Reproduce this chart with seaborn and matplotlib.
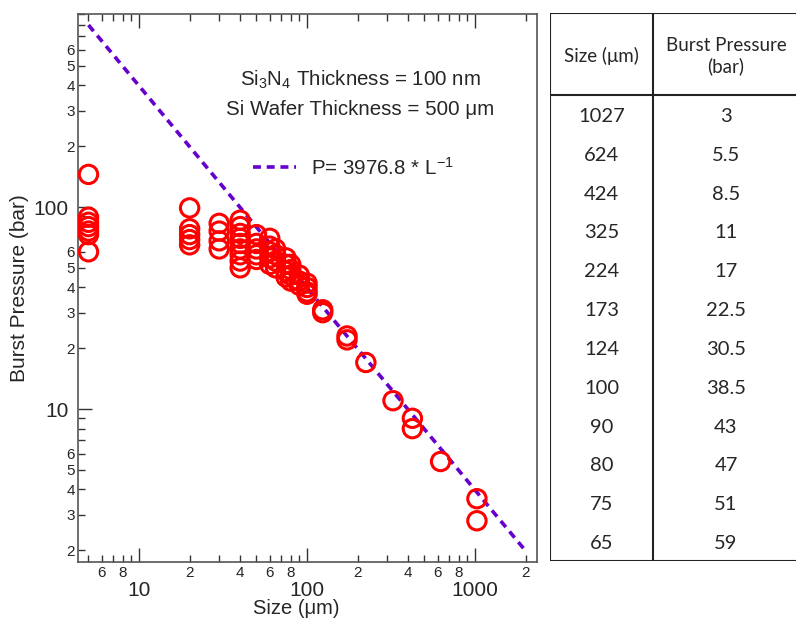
import numpy as np
import pandas as pd
import matplotlib
matplotlib.use('Agg')
import matplotlib.pyplot as plt
import matplotlib.ticker as mticker
import seaborn as sns

# measured burst pressures (bar) per membrane size (um)
sizes = [5, 20, 30, 40, 50, 60, 65, 75, 80, 90, 100, 124, 173, 224, 325, 424, 624, 1027]
pressures = [
    [145, 89, 84, 80, 76, 73, 60],
    [99, 78, 73, 69, 65],
    [83, 76, 68, 62],
    [86, 80, 74, 70, 66, 62, 58, 54, 50],
    [73, 66, 62, 58, 55],
    [70, 64, 60, 56, 52],
    [62, 58, 54, 50],
    [56, 52, 48, 45],
    [52, 49, 46, 43],
    [46, 43, 41],
    [42, 40, 38, 37],
    [31, 30],
    [23, 22],
    [17],
    [11],
    [9.0, 8.0],
    [5.5],
    [3.6, 2.8],
]

# fit P = coef * L^-1
fit_coef = 3976.8
fit_size = [5, 2000]

# table on the right
table_size = ['1027', '624', '424', '325', '224', '173', '124', '100', '90', '80', '75', '65']
table_pressure = ['3', '5.5', '8.5', '11', '17', '22.5', '30.5', '38.5', '43', '47', '51', '59']

df = pd.DataFrame([(s, p) for s, ps in zip(sizes, pressures) for p in ps],
                  columns=['size', 'pressure'])
fit_df = pd.DataFrame({'size': fit_size,
                       'pressure': [fit_coef / s for s in fit_size]})

sns.set_style('ticks')
plt.rcParams['font.family'] = ['Liberation Sans', 'DejaVu Sans']
plt.rcParams['mathtext.default'] = 'regular'

fig = plt.figure(figsize=(7.96, 6.22), dpi=100)
ax = fig.add_axes([78 / 796, 60 / 622, 459 / 796, 548 / 622])

sns.lineplot(data=fit_df, x='size', y='pressure', ax=ax, color='#6600CC',
             linewidth=2.6, label='P= 3976.8 * L$^{-1}$')
ax.lines[0].set_dashes((2.2, 1.6))
sns.scatterplot(data=df, x='size', y='pressure', ax=ax, marker='o',
                facecolors='none', edgecolor='red', linewidth=2.2, s=175,
                zorder=3)

ax.set_xscale('log')
ax.set_yscale('log')
ax.set_xlim(4.33, 2340)
ax.set_ylim(1.75, 902)

# ticks: major decades with big labels, minor with small labels
ax.xaxis.set_major_locator(mticker.LogLocator(base=10, subs=[1.0]))
ax.xaxis.set_minor_locator(mticker.LogLocator(base=10, subs=np.arange(2, 10)))
ax.yaxis.set_major_locator(mticker.LogLocator(base=10, subs=[1.0]))
ax.yaxis.set_minor_locator(mticker.LogLocator(base=10, subs=np.arange(2, 10)))


def major_fmt(v, pos):
    return f'{v:g}'


def minor_fmt_x(v, pos):
    m = int(round(v / 10 ** np.floor(np.log10(v) + 1e-9)))
    return str(m) if m in (2, 4, 6, 8) else ''


def minor_fmt_y(v, pos):
    m = int(round(v / 10 ** np.floor(np.log10(v) + 1e-9)))
    return str(m) if m in (2, 3, 4, 5, 6) else ''


ax.xaxis.set_major_formatter(mticker.FuncFormatter(major_fmt))
ax.xaxis.set_minor_formatter(mticker.FuncFormatter(minor_fmt_x))
ax.yaxis.set_major_formatter(mticker.FuncFormatter(major_fmt))
ax.yaxis.set_minor_formatter(mticker.FuncFormatter(minor_fmt_y))

ax.tick_params(axis='x', which='major', direction='in', top=True, bottom=True,
               length=10, width=1, labelsize=15, pad=14, color='#333333')
ax.tick_params(axis='x', which='minor', direction='in', top=True, bottom=True,
               length=5, width=1, labelsize=11, pad=3, color='#333333')
ax.tick_params(axis='y', which='major', direction='in', left=True, right=False,
               length=10, width=1, labelsize=15, pad=7, color='#333333')
ax.tick_params(axis='y', which='minor', direction='in', left=True, right=False,
               length=5, width=1, labelsize=11, pad=2, color='#333333')
for sp in ax.spines.values():
    sp.set_visible(True)
    sp.set_color('#555555')
    sp.set_linewidth(1.2)

ax.set_xlabel('Size (μm)', fontsize=14.5)
ax.xaxis.set_label_coords(0.475, -0.067)
ax.set_ylabel('Burst Pressure (bar)', fontsize=15, labelpad=3)

ax.text(0.615, 0.879, 'Si$_3$N$_4$ Thickness = 100 nm', transform=ax.transAxes,
        ha='center', va='center', fontsize=14.8)
ax.text(0.615, 0.826, 'Si Wafer Thickness = 500 μm', transform=ax.transAxes,
        ha='center', va='center', fontsize=14.8)
ax.legend(loc='center', bbox_to_anchor=(0.6, 0.72), frameon=False,
          fontsize=14.8, handlelength=2.1, handletextpad=0.7)

# table
tab = fig.add_axes([550 / 796, 61 / 622, 260 / 796, 548 / 622])
tab.set_xlim(0, 260)
tab.set_ylim(548, 0)
tab.axis('off')
tfont = ['Lato', 'DejaVu Sans']
head_h = 82
row_h = (548 - head_h) / len(table_size)
col_x = 103
lc = '#222222'
tab.plot([0, 260], [0, 0], color=lc, lw=1.5)
tab.plot([0, 260], [head_h, head_h], color=lc, lw=1.5)
tab.plot([0, 260], [548, 548], color=lc, lw=1.5)
tab.plot([0, 0], [0, 548], color=lc, lw=1.5)
tab.plot([col_x, col_x], [0, 548], color=lc, lw=1.5)
tab.text(col_x / 2, head_h / 2 + 2, 'Size (μm)', ha='center', va='center',
         fontsize=13.5, family=tfont)
tab.text(176, head_h / 2 + 2, 'Burst Pressure\n(bar)', ha='center', va='center',
         fontsize=13.5, family=tfont, linespacing=1.2)
for i, (s, p) in enumerate(zip(table_size, table_pressure)):
    y = head_h + row_h * (i + 0.5) + 2
    tab.text(col_x / 2, y, s, ha='center', va='center', fontsize=14.5, family=tfont)
    tab.text(176, y, p, ha='center', va='center', fontsize=14.5, family=tfont)

fig.savefig('out.png', dpi=100)
